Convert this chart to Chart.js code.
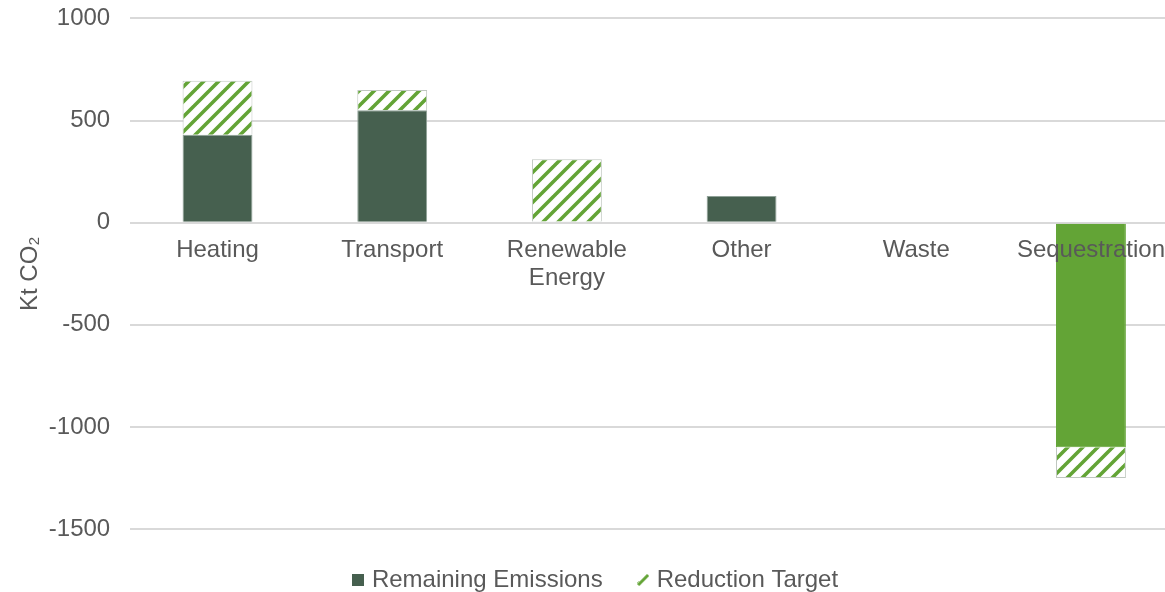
<!DOCTYPE html>
<html>
<head>
<meta charset="utf-8">
<script src="https://cdn.jsdelivr.net/npm/chart.js@4/dist/chart.umd.min.js"></script>
<style>
  html, body { margin: 0; padding: 0; background: #ffffff; overflow: hidden; }
  #wrap { width: 1165px; height: 592px; overflow: hidden; }
  canvas { display: block; }
</style>
</head>
<body>
<div id="wrap"><canvas id="c" width="1179" height="592"></canvas></div>
<script>
// Emissions by sector, Kt CO2
const categories = ['Heating', 'Transport', ['Renewable', 'Energy'], 'Other', 'Waste', 'Sequestration'];
const remainingEmissions = [430, 550, 5, 130, 0, -1100];
const reductionTarget = [265, 100, 305, 0, 0, -150];
const yTickValues = [-1500, -1000, -500, 0, 500, 1000];

const DARK = '#46604f';
const GREEN = '#63a436';
const TEXT = '#595959';
const FONT = '"Liberation Sans", Arial, sans-serif';
const FS = 24;

// Diagonal stripe fill (rising to the right) for the target segments
function makeHatch() {
  const s = 15;
  const c = document.createElement('canvas');
  c.width = s; c.height = s;
  const g = c.getContext('2d');
  g.fillStyle = '#ffffff';
  g.fillRect(0, 0, s, s);
  g.strokeStyle = GREEN;
  g.lineWidth = 3.6;
  g.beginPath();
  for (const k of [-s, 0, s]) {
    g.moveTo(k - 1, s + 1);
    g.lineTo(k + s + 1, -1);
  }
  g.stroke();
  return g.createPattern(c, 'repeat');
}
const hatch = makeHatch();

// Legend glyphs
function squareIcon() {
  const c = document.createElement('canvas');
  c.width = 12; c.height = 12;
  const g = c.getContext('2d');
  g.fillStyle = DARK;
  g.fillRect(0, 0, 12, 12);
  return c;
}
function slashIcon() {
  const c = document.createElement('canvas');
  c.width = 12; c.height = 12;
  const g = c.getContext('2d');
  g.strokeStyle = GREEN;
  g.lineWidth = 3;
  g.beginPath();
  g.moveTo(1, 11);
  g.lineTo(11, 1);
  g.stroke();
  g.strokeStyle = '#a9cf8f';
  g.lineWidth = 1;
  g.beginPath();
  g.moveTo(0, 9); g.lineTo(2, 7);
  g.stroke();
  return c;
}

new Chart(document.getElementById('c'), {
  type: 'bar',
  data: {
    labels: categories,
    datasets: [
      {
        label: 'Remaining Emissions',
        data: remainingEmissions,
        backgroundColor: ctx => (ctx.raw < 0 ? GREEN : DARK),
        borderColor: ctx => (ctx.raw < 0 ? GREEN : '#8fa197'),
        borderWidth: 1,
        pointStyle: squareIcon(),
        stack: 's'
      },
      {
        label: 'Reduction Target',
        data: reductionTarget,
        backgroundColor: hatch,
        borderColor: '#bfc7bf',
        borderWidth: 1,
        pointStyle: slashIcon(),
        stack: 's'
      }
    ]
  },
  options: {
    responsive: false,
    animation: false,
    barPercentage: 0.40,
    categoryPercentage: 1.0,
    layout: { padding: { top: 0, right: 0, left: 16, bottom: -10 } },
    plugins: {
      tooltip: { enabled: false },
      legend: {
        position: 'bottom',
        labels: {
          usePointStyle: true,
          boxWidth: 3,
          boxHeight: 12,
          padding: 39,
          color: TEXT,
          font: { family: FONT, size: FS }
        }
      }
    },
    scales: {
      x: {
        stacked: true,
        position: { y: 0 },
        grid: { display: false, drawTicks: false },
        border: { display: false },
        ticks: {
          z: 1,
          color: TEXT,
          padding: 14,
          autoSkip: false,
          maxRotation: 0,
          font: { family: FONT, size: FS, lineHeight: 1.17 }
        }
      },
      y: {
        stacked: true,
        min: -1500,
        max: 1000,
        afterBuildTicks: axis => { axis.ticks = yTickValues.map(v => ({ value: v })); },
        grid: { color: '#d9d9d9', lineWidth: 2, drawTicks: true, tickLength: 16, tickColor: 'rgba(0,0,0,0)' },
        border: { display: false },
        ticks: {
          color: TEXT,
          padding: 4,
          callback: v => String(v),
          font: { family: FONT, size: FS }
        },
        title: {
          display: true,
          text: 'Kt CO\u2082',
          color: TEXT,
          padding: { top: 0, bottom: 0 },
          font: { family: FONT, size: FS }
        }
      }
    }
  }
});
</script>
</body>
</html>
